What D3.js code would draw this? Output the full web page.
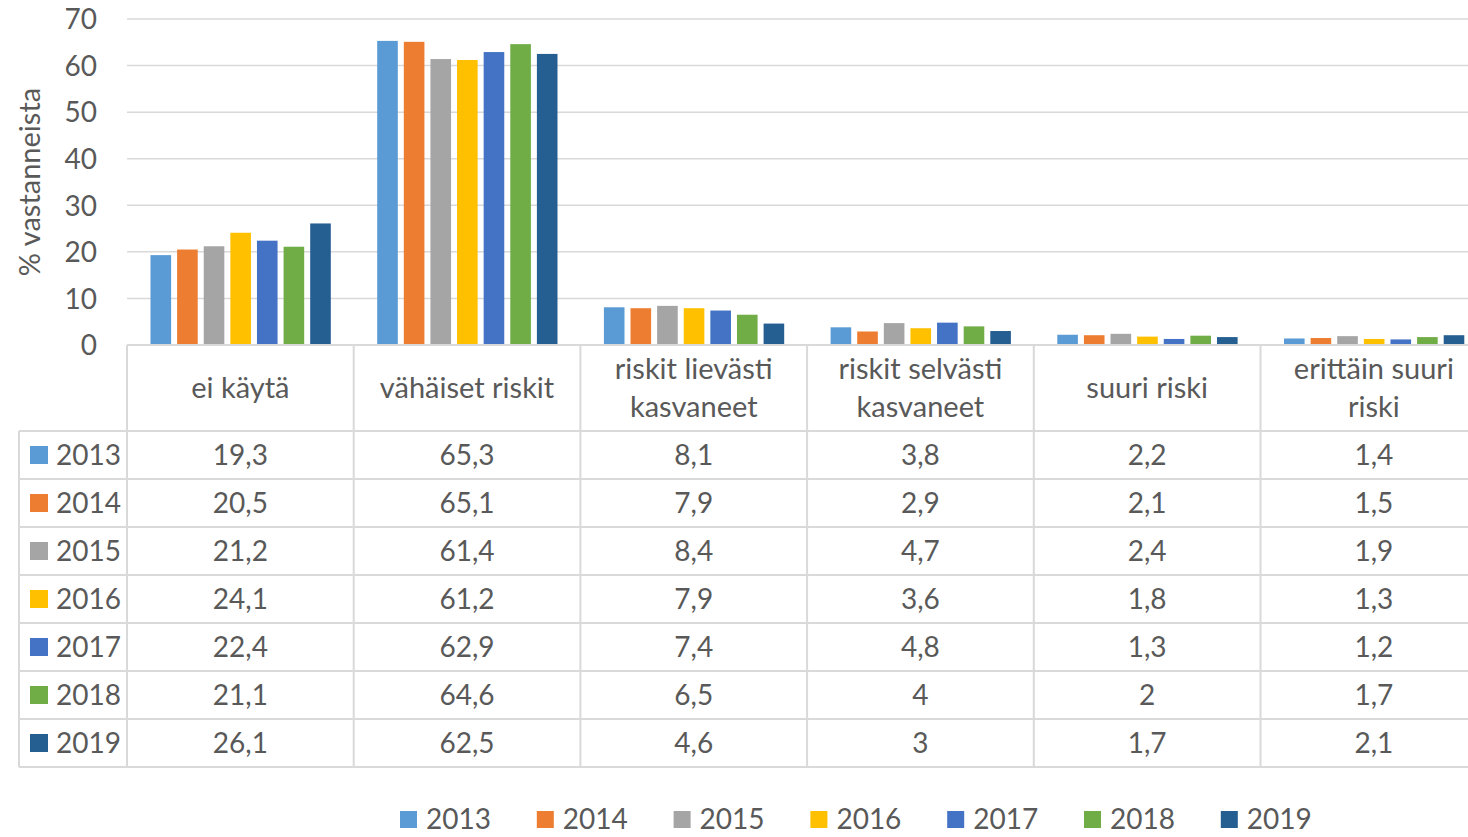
<!DOCTYPE html>
<html>
<head>
<meta charset="utf-8">
<script src="https://cdn.jsdelivr.net/npm/d3@7"></script>
<style>
  html, body { margin: 0; padding: 0; background: #fff; }
  svg { display: block; }
  text { font-family: Lato, "Open Sans", sans-serif; fill: #595959; }
</style>
</head>
<body>
<svg id="chart" width="1468" height="837"></svg>
<script>
// Riskiarviot vuosittain (% vastanneista)
const categories = [
  ["ei käytä"],
  ["vähäiset riskit"],
  ["riskit lievästi", "kasvaneet"],
  ["riskit selvästi", "kasvaneet"],
  ["suuri riski"],
  ["erittäin suuri", "riski"]
];
const years = ["2013", "2014", "2015", "2016", "2017", "2018", "2019"];
const v2013 = [19.3, 65.3, 8.1, 3.8, 2.2, 1.4];
const v2014 = [20.5, 65.1, 7.9, 2.9, 2.1, 1.5];
const v2015 = [21.2, 61.4, 8.4, 4.7, 2.4, 1.9];
const v2016 = [24.1, 61.2, 7.9, 3.6, 1.8, 1.3];
const v2017 = [22.4, 62.9, 7.4, 4.8, 1.3, 1.2];
const v2018 = [21.1, 64.6, 6.5, 4.0, 2.0, 1.7];
const v2019 = [26.1, 62.5, 4.6, 3.0, 1.7, 2.1];
const seriesValues = [v2013, v2014, v2015, v2016, v2017, v2018, v2019];
const yTicks = [0, 10, 20, 30, 40, 50, 60, 70];
const colors = ["#5B9BD5", "#ED7D31", "#A5A5A5", "#FFC000", "#4472C4", "#70AD47", "#255E91"];
const axisTitle = "% vastanneista";

const svg = d3.select("#chart");
const W = 1468;
const fontSize = 28;
const lineColor = "#d9d9d9";

const plotLeft = 127, plotRight = 127 + 6 * 226.7;
const yTop = 19, yBottom = 345;
const headerBottom = 431, rowH = 48, tableLeft = 19;

const catIdx = d3.range(categories.length);
const x0 = d3.scaleBand().domain(catIdx).range([plotLeft, plotRight]);
const x1 = d3.scaleBand().domain(years).range([23.5, 203.8]).paddingInner(0.226).paddingOuter(0);
const y = d3.scaleLinear().domain([0, 70]).range([yBottom, yTop]);
const color = d3.scaleOrdinal().domain(years).range(colors);

// horizontal gridlines
svg.append("g")
  .selectAll("line")
  .data(yTicks.filter(t => t > 0))
  .join("line")
  .attr("x1", plotLeft).attr("x2", W)
  .attr("y1", d => y(d)).attr("y2", d => y(d))
  .attr("stroke", lineColor).attr("stroke-width", 1.5);

// y axis tick labels
const yAxis = d3.axisLeft(y).tickValues(yTicks).tickSize(0).tickPadding(0);
const yg = svg.append("g").attr("transform", `translate(97,0)`).call(yAxis);
yg.select(".domain").remove();
yg.selectAll("text")
  .attr("font-size", fontSize)
  .attr("font-family", "Lato, sans-serif")
  .attr("fill", "#595959")
  .attr("dy", "0.35em");

// axis title
svg.append("text")
  .attr("transform", `translate(40,182) rotate(-90)`)
  .attr("text-anchor", "middle")
  .attr("font-size", 29)
  .text(axisTitle);

// bars
const groups = svg.append("g")
  .selectAll("g")
  .data(catIdx)
  .join("g")
  .attr("transform", d => `translate(${x0(d)},0)`);

groups.selectAll("rect")
  .data(ci => years.map((yr, si) => ({ yr, v: seriesValues[si][ci] })))
  .join("rect")
  .attr("x", d => x1(d.yr))
  .attr("width", x1.bandwidth())
  .attr("y", d => y(d.v))
  .attr("height", d => yBottom - y(d.v))
  .attr("fill", d => color(d.yr));

// data table grid
const table = svg.append("g");
const tableBottom = headerBottom + rowH * years.length;
// category axis line / header top
table.append("line")
  .attr("x1", plotLeft).attr("x2", W)
  .attr("y1", yBottom).attr("y2", yBottom)
  .attr("stroke", lineColor).attr("stroke-width", 2);
// row lines
table.selectAll("line.row")
  .data(d3.range(years.length + 1))
  .join("line")
  .attr("class", "row")
  .attr("x1", tableLeft).attr("x2", W)
  .attr("y1", i => headerBottom + i * rowH).attr("y2", i => headerBottom + i * rowH)
  .attr("stroke", lineColor).attr("stroke-width", 2);
// column lines
table.selectAll("line.col")
  .data(d3.range(categories.length + 1))
  .join("line")
  .attr("class", "col")
  .attr("x1", i => plotLeft + i * x0.step()).attr("x2", i => plotLeft + i * x0.step())
  .attr("y1", yBottom).attr("y2", tableBottom)
  .attr("stroke", lineColor).attr("stroke-width", 2);
table.append("line")
  .attr("x1", tableLeft).attr("x2", tableLeft)
  .attr("y1", headerBottom).attr("y2", tableBottom)
  .attr("stroke", lineColor).attr("stroke-width", 2);

// header labels
const headers = svg.append("g")
  .selectAll("text")
  .data(catIdx)
  .join("text")
  .attr("text-anchor", "middle")
  .attr("font-size", 29)
  .attr("x", d => x0(d) + x0.bandwidth() / 2)
  .attr("y", d => {
    const mid = (yBottom + headerBottom) / 2;
    return mid - (categories[d].length - 1) * 19;
  });
headers.each(function (d) {
  const t = d3.select(this);
  categories[d].forEach((line, i) => {
    t.append("tspan")
      .attr("x", x0(d) + x0.bandwidth() / 2)
      .attr("dy", i === 0 ? "0.35em" : 38)
      .text(line);
  });
});

// table rows
const fmt = v => String(v).replace(".", ",");
const rows = svg.append("g")
  .selectAll("g")
  .data(years)
  .join("g")
  .attr("transform", (d, i) => `translate(0,${headerBottom + i * rowH + rowH / 2})`);
rows.append("rect")
  .attr("x", 30).attr("y", -9).attr("width", 18).attr("height", 18)
  .attr("fill", d => color(d));
rows.append("text")
  .attr("x", 56).attr("dy", "0.35em")
  .attr("font-size", fontSize)
  .text(d => d);
rows.each(function (yr, si) {
  d3.select(this).selectAll("text.val")
    .data(catIdx)
    .join("text")
    .attr("class", "val")
    .attr("text-anchor", "middle")
    .attr("x", ci => x0(ci) + x0.bandwidth() / 2)
    .attr("dy", "0.35em")
    .attr("font-size", fontSize)
    .text(ci => fmt(seriesValues[si][ci]));
});

// legend
const legend = svg.append("g")
  .selectAll("g")
  .data(years)
  .join("g")
  .attr("transform", (d, i) => `translate(${400 + i * 136.8},819)`);
legend.append("rect")
  .attr("x", 0).attr("y", -8).attr("width", 17).attr("height", 17)
  .attr("fill", d => color(d));
legend.append("text")
  .attr("x", 26).attr("dy", "0.35em")
  .attr("font-size", fontSize)
  .text(d => d);
</script>
</body>
</html>
